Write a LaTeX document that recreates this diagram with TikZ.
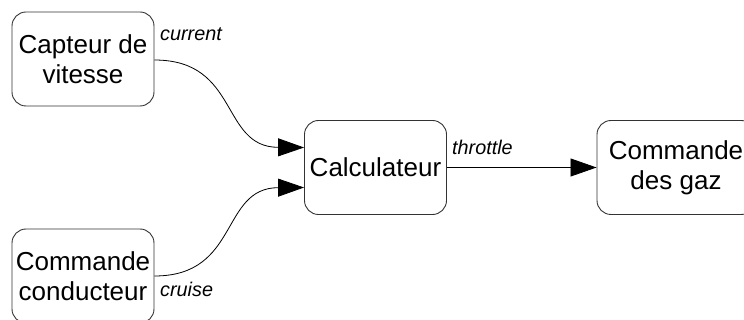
\documentclass[tikz,border=0pt]{standalone}
\usepackage{fontspec}
\setmainfont{Liberation Sans}
\usetikzlibrary{arrows.meta}
\begin{document}
\begin{tikzpicture}[x=1pt,y=-1pt,
  box/.style={draw=black!80, line width=0.9pt, rounded corners=14pt, minimum width=142pt, minimum height=94pt, align=center, inner sep=0pt, font=\fontsize{26}{30}\selectfont},
  lbl/.style={inner sep=0pt, anchor=base west, font=\fontsize{19.8}{22}\selectfont\itshape},
  link/.style={draw=black, line width=0.8pt, -{Triangle[length=26pt,width=18pt]}}]
\useasboundingbox (0,0) rectangle (744,320);
\clip (0,0) rectangle (744,320);
\node[box] (cap) at (83,59) {Capteur de\\vitesse};
\node[box] (cond) at (83,276) {Commande\\conducteur};
\node[box] (calc) at (375.5,167.5) {Calculateur};
\node[box, minimum width=158pt] (gaz) at (676,167.5) {Commande\\des gaz};
\node[lbl] (lcur) at (160,41) {current};
\node[lbl] (lcru) at (160,297) {cruise};
\node[lbl] (lthr) at (452,155) {throttle};
\draw[link] ([yshift=-1pt]cap.east) .. controls (240,60) and (220,147) .. ([yshift=20pt]calc.west);
\draw[link] (cond.east) .. controls (240,276) and (220,188) .. ([yshift=-20pt]calc.west);
\draw[link] (calc.east) -- (gaz.west);
\end{tikzpicture}
\end{document}
